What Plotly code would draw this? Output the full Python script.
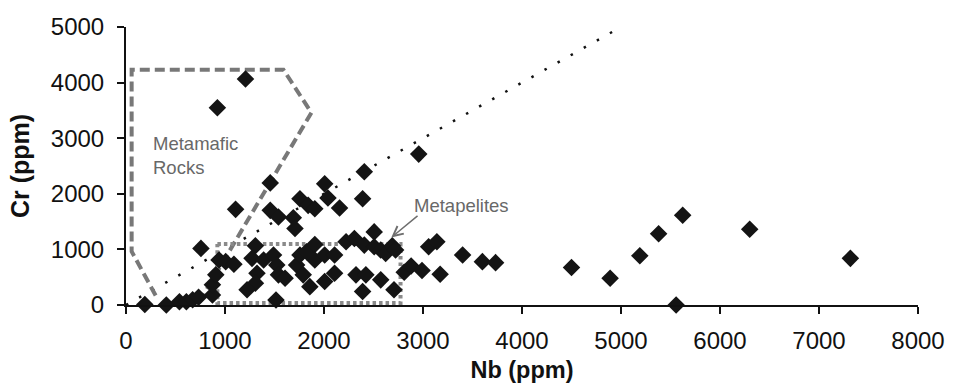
import plotly.graph_objects as go

# Scatter data: Nb (ppm) vs Cr (ppm)
nb = [190, 407, 540, 610, 673, 733, 873, 873, 907, 940, 1007, 1090, 757,
      1107, 1457, 1457, 1540, 1690, 1707, 1757, 1840, 1907, 2040, 2157, 2007,
      2390, 2407, 2507, 1207, 923, 2957,
      1307, 1273, 1390, 1490, 1523, 1323, 1540, 1607, 1307, 1223, 1515,
      1723, 1757, 1823, 1907, 1907, 2007, 2107, 1790, 1857, 2007, 2107,
      2323, 2423, 2573, 2390, 2707, 2223, 2307, 2407, 2507, 2573, 2623,
      2690, 2723,
      2810, 2880, 2990, 3057, 3140, 3173, 3400, 3600, 3733, 4500, 4890,
      5190, 5380, 5623, 5557, 6300, 7317]
cr = [10, 0, 60, 60, 95, 140, 180, 363, 542, 810, 780, 732, 1018,
      1720, 2196, 1702, 1583, 1570, 1375, 1911, 1792, 1732, 1923, 1744, 2179,
      1911, 2398, 1315, 4066, 3548, 2714,
      1065, 839, 810, 898, 720, 571, 542, 482, 393, 274, 90,
      720, 898, 958, 1089, 810, 898, 898, 542, 330, 423, 571,
      542, 542, 452, 244, 274, 1137, 1196, 1077, 1048, 988, 929,
      1065, 988,
      590, 700, 620, 1048, 1137, 554, 898, 780, 762, 673, 482,
      887, 1280, 1613, 0, 1363, 839]

# 1:1 reference line
trend_x = [0, 5000]
trend_y = [0, 5000]

# Metamafic rocks field outline (open polygon)
mafic_x = [740, 1873, 1590, 57, 57, 323]
mafic_y = [54, 3459, 4232, 4232, 964, 95]

# Metapelites field (rectangle)
pel_x = [923, 2773, 2773, 923, 923]
pel_y = [1095, 1095, 36, 36, 1095]

x_ticks = [0, 1000, 2000, 3000, 4000, 5000, 6000, 7000, 8000]
y_ticks = [0, 1000, 2000, 3000, 4000, 5000]

FONT = "Liberation Sans, Arial, sans-serif"

fig = go.Figure()
fig.add_trace(go.Scatter(x=trend_x, y=trend_y, mode="lines",
                         line=dict(color="#111111", width=2.5, dash="2.5px,12.5px"),
                         hoverinfo="skip", showlegend=False))
fig.add_trace(go.Scatter(x=mafic_x, y=mafic_y, mode="lines",
                         line=dict(color="#787878", width=4, dash="10px,5px"),
                         hoverinfo="skip", showlegend=False))
fig.add_trace(go.Scatter(x=pel_x, y=pel_y, mode="lines",
                         line=dict(color="#8a8a8a", width=4, dash="3.5px,3px"),
                         hoverinfo="skip", showlegend=False))
fig.add_trace(go.Scatter(x=nb, y=cr, mode="markers", cliponaxis=False,
                         marker=dict(symbol="diamond", size=13.5, color="#141414",
                                     line=dict(width=0)),
                         showlegend=False))

fig.add_annotation(x=257, y=3130, xref="x", yref="y", text="Metamafic<br>Rocks",
                   showarrow=False, xanchor="left", yanchor="top", align="left",
                   font=dict(family=FONT, size=18.5, color="#686868"))
fig.add_annotation(x=2890, y=1791, xref="x", yref="y", text="Metapelites",
                   showarrow=False, xanchor="left", yanchor="middle",
                   font=dict(family=FONT, size=18.5, color="#686868"))
fig.add_annotation(x=2680, y=1214, ax=2960, ay=1625, xref="x", yref="y",
                   axref="x", ayref="y", text="", showarrow=True,
                   arrowhead=5, arrowsize=1.3, arrowwidth=1.5, arrowcolor="#6e6e6e")

fig.update_layout(
    width=957, height=391,
    margin=dict(l=126, r=31, t=27, b=84),
    paper_bgcolor="white", plot_bgcolor="white",
    font=dict(family=FONT, color="#111111"),
    xaxis=dict(range=[0, 8000], tickvals=x_ticks, ticktext=[str(v) for v in x_ticks],
               showgrid=False, zeroline=False, showline=True, linecolor="#111111",
               linewidth=2, ticks="outside", ticklen=7, tickwidth=2, tickcolor="#111111",
               tickfont=dict(size=24, family=FONT, color="#111111"),
               ticklabelstandoff=6,
               title=dict(text="<b>Nb (ppm)</b>", standoff=9,
                          font=dict(size=23.5, family=FONT, color="#111111"))),
    yaxis=dict(range=[0, 5000], tickvals=y_ticks, ticktext=[str(v) for v in y_ticks],
               showgrid=False, zeroline=False, showline=True, linecolor="#111111",
               linewidth=2, ticks="outside", ticklen=7, tickwidth=2, tickcolor="#111111",
               tickfont=dict(size=24, family=FONT, color="#111111"),
               ticklabelstandoff=8,
               title=dict(text="<b>Cr (ppm)</b>", standoff=14,
                          font=dict(size=25, family=FONT, color="#111111"))),
)

fig.write_html("out.html")
